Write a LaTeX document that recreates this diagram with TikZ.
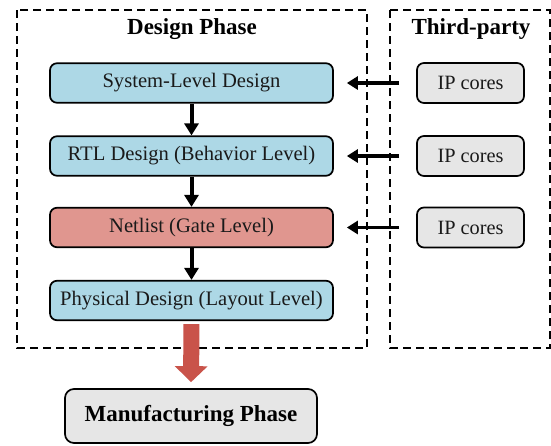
\documentclass[tikz,border=0pt]{standalone}
\usepackage{fontspec}
\setmainfont{Liberation Serif}
\usetikzlibrary{arrows.meta}

\definecolor{stageblue}{HTML}{ADD8E6}
\definecolor{stagered}{HTML}{E0968F}
\definecolor{flowred}{HTML}{C9534A}
\definecolor{coregray}{HTML}{E6E6E6}
\definecolor{inkgray}{HTML}{1A1A1A}

\tikzset{
  phasebox/.style={draw=black, line width=2pt, dash pattern=on 8pt off 5pt},
  stagebox/.style={draw=black, line width=1.7pt, rounded corners=7pt,
    minimum width=283pt, minimum height=39.5pt, inner sep=0pt,
    font=\fontsize{20.6}{24}\selectfont, text=inkgray},
  corebox/.style={draw=black, line width=1.7pt, rounded corners=7pt, fill=coregray,
    minimum width=107pt, minimum height=40pt, inner sep=0pt,
    font=\fontsize{20.3}{24}\selectfont, text=inkgray},
  phasetitle/.style={font=\fontsize{23}{27}\selectfont\bfseries, inner sep=0pt},
  flow/.style={line width=4pt, -{Triangle[width=14pt,length=12pt]}},
  feed/.style={line width=3.5pt, -{Triangle[width=13pt,length=11pt]},
    shorten <=17pt, shorten >=13pt},
  bigflow/.style={line width=16pt, draw=flowred, -{Triangle[width=32pt,length=16pt]},
    shorten <=3pt, shorten >=6pt}
}

\begin{document}
\begin{tikzpicture}[x=1pt, y=-1pt]
  \useasboundingbox (0,0) rectangle (551,445);
  \clip (0,0) rectangle (551,445);

  % phase frames
  \draw[phasebox] (17,10) rectangle (367,348);
  \draw[phasebox] (390,10) rectangle (550,348);

  % frame titles
  \node[phasetitle] (tdesign) at (192,29) {Design Phase};
  \node[phasetitle] (tthird) at (471,29) {Third-party};

  % design stages
  \node[stagebox, fill=stageblue] (sys) at (191.5,83) {System-Level Design};
  \node[stagebox, fill=stageblue] (rtl) at (191.5,156) {RTL Design (Behavior Level)};
  \node[stagebox, fill=stagered]  (net) at (191.5,227.5) {Netlist (Gate Level)};
  \node[stagebox, fill=stageblue] (phy) at (191.5,300.5) {Physical Design (Layout Level)};

  % third-party IP
  \node[corebox] (ip1) at (470.5,83) {IP cores};
  \node[corebox] (ip2) at (470.5,156) {IP cores};
  \node[corebox] (ip3) at (470.5,227.5) {IP cores};

  % manufacturing
  \node[draw=black, line width=1.7pt, rounded corners=9pt, fill=coregray,
        minimum width=252pt, minimum height=54pt, inner sep=0pt,
        font=\fontsize{23}{27}\selectfont\bfseries] (manu) at (191,416) {Manufacturing Phase};

  % flow between stages
  \draw[flow] (sys.south) -- (rtl.north);
  \draw[flow] (rtl.south) -- (net.north);
  \draw[flow] (net.south) -- (phy.north);

  % IP cores feeding the stages
  \draw[feed] (ip1.west) -- (sys.east);
  \draw[feed] (ip2.west) -- (rtl.east);
  \draw[feed] (ip3.west) -- (net.east);

  % hand-off to manufacturing
  \draw[bigflow] (phy.south) -- (manu.north);
\end{tikzpicture}
\end{document}
